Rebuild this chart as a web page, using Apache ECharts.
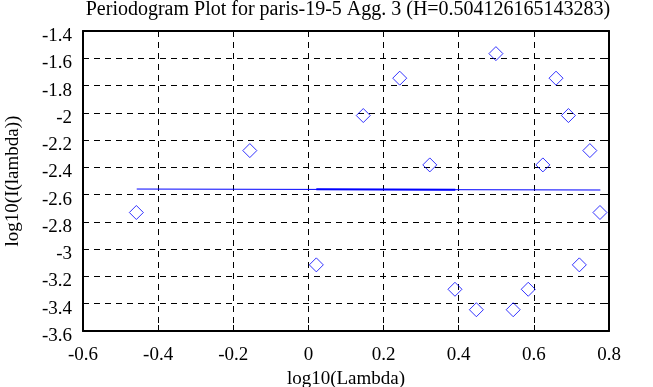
<!DOCTYPE html>
<html><head><meta charset="utf-8">
<script src="https://cdn.jsdelivr.net/npm/echarts@6/dist/echarts.min.js"></script>
<style>html,body{margin:0;padding:0;background:#fff}#c{width:653px;height:387px}</style>
</head><body><div id="c"></div>
<script>
const titleText = 'Periodogram Plot for paris-19-5 Agg. 3 (H=0.504126165143283)';
const xName = 'log10(Lambda)';
const yName = 'log10(I(lambda))';
const logLambda = [-0.458, -0.156, 0.021, 0.146, 0.243, 0.323, 0.390, 0.447, 0.499, 0.545, 0.585, 0.624, 0.659, 0.692, 0.721, 0.749, 0.776];
const logI = [-2.731, -2.277, -3.115, -2.020, -1.746, -2.382, -3.294, -3.444, -1.566, -3.444, -3.294, -2.382, -1.746, -2.020, -3.115, -2.277, -2.731];
const fitX = [-0.457, 0.777];
const fitY = [-2.559, -2.566];
const fitBoldX = [0.021, 0.391];
const fitBoldY = [-2.561, -2.564];

const font = 'Liberation Serif';
const chart = echarts.init(document.getElementById('c'), null, {renderer: 'canvas'});
chart.setOption({
  animation: false,
  backgroundColor: '#fff',
  title: {text: titleText, left: 348, top: 0, padding: 0, textAlign: 'center',
    textStyle: {fontFamily: font, fontSize: 20, fontWeight: 'normal', color: '#000'}},
  grid: {left: 83, right: 44, top: 31, bottom: 56, containLabel: false, outerBoundsMode: 'none'},
  xAxis: [{
    type: 'value', min: -0.6, max: 0.8, interval: 0.2,
    name: xName, nameLocation: 'middle', nameGap: 33,
    nameTextStyle: {fontFamily: font, fontSize: 19, color: '#000'},
    axisLine: {show: true, onZero: false, lineStyle: {color: '#000', width: 2}},
    axisTick: {show: true, inside: true, length: 6, lineStyle: {color: '#000', width: 1}},
    axisLabel: {fontFamily: font, fontSize: 19, color: '#000', margin: 15,
      formatter: v => String(Math.round(v * 10) / 10)},
    splitLine: {show: true, lineStyle: {color: '#000', type: [6, 5], width: 1}}
  }, {
    type: 'value', position: 'top', min: -0.6, max: 0.8, interval: 0.2,
    axisLine: {show: true, onZero: false, lineStyle: {color: '#000', width: 2}},
    axisTick: {show: true, inside: true, length: 6, lineStyle: {color: '#000'}},
    axisLabel: {show: false}, splitLine: {show: false}
  }],
  yAxis: [{
    type: 'value', min: -3.6, max: -1.4, interval: 0.2,
    name: yName, nameLocation: 'middle', nameGap: 60, nameRotate: 90,
    nameTextStyle: {fontFamily: font, fontSize: 19, color: '#000'},
    axisLine: {show: true, onZero: false, lineStyle: {color: '#000', width: 2}},
    axisTick: {show: true, inside: true, length: 6, lineStyle: {color: '#000'}},
    axisLabel: {fontFamily: font, fontSize: 19, color: '#000', margin: 11,
      verticalAlign: 'top', lineHeight: 10,
      formatter: v => String(Math.round(v * 10) / 10)},
    splitLine: {show: true, lineStyle: {color: '#000', type: [6, 5], width: 1}}
  }, {
    type: 'value', position: 'right', min: -3.6, max: -1.4, interval: 0.2,
    axisLine: {show: true, onZero: false, lineStyle: {color: '#000', width: 2}},
    axisTick: {show: true, inside: true, length: 6, lineStyle: {color: '#000'}},
    axisLabel: {show: false}, splitLine: {show: false}
  }],
  series: [{
    type: 'line', data: fitX.map((x, i) => [x, fitY[i]]), showSymbol: false, symbol: 'none',
    lineStyle: {color: '#0000ff', width: 1}, silent: true
  }, {
    type: 'line', data: fitBoldX.map((x, i) => [x, fitBoldY[i]]), showSymbol: false, symbol: 'none',
    lineStyle: {color: '#0000ff', width: 2}, silent: true
  }, {
    type: 'scatter', data: logLambda.map((x, i) => [x, logI[i]]),
    symbol: 'diamond', symbolSize: [14, 14],
    itemStyle: {color: 'rgba(0,0,0,0)', borderColor: '#0000ff', borderWidth: 1}
  }]
});
</script></body></html>
